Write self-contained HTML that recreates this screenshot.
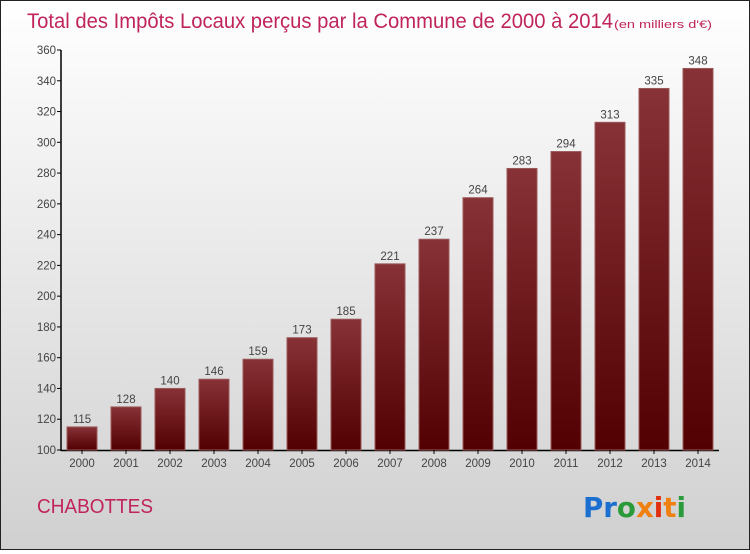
<!DOCTYPE html>
<html><head><meta charset="utf-8"><style>
html,body{margin:0;padding:0}
body{width:750px;height:550px;overflow:hidden;font-family:"Liberation Sans",sans-serif}
#c{position:absolute;left:0;top:0;width:748px;height:548px;border:1px solid #222;background:linear-gradient(#ffffff,#d0d0d0)}
</style></head><body>
<div id="c">
<svg id="s" width="748" height="548">
<defs><linearGradient id="g" x1="0" y1="0" x2="0" y2="1"><stop offset="0" stop-color="#873236"/><stop offset="1" stop-color="#520002"/></linearGradient></defs>
<text x="26" y="27" font-size="21" fill="#c0245c" textLength="586" lengthAdjust="spacingAndGlyphs">Total des Impôts Locaux perçus par la Commune de 2000 à 2014</text>
<text x="613" y="27" font-size="11" fill="#c0245c" textLength="98" lengthAdjust="spacingAndGlyphs">(en milliers d'€)</text>
<text x="36" y="512" font-size="20" fill="#c0245c" textLength="116" lengthAdjust="spacingAndGlyphs">CHABOTTES</text>
<text x="582" y="516" font-size="28" font-weight="bold" textLength="103" lengthAdjust="spacingAndGlyphs" font-family="'DejaVu Sans',sans-serif"><tspan fill="#1a6fd0">Pr</tspan><tspan fill="#2a9a3a">o</tspan><tspan fill="#f08010">x</tspan><tspan fill="#e03010">i</tspan><tspan fill="#f08010">t</tspan><tspan fill="#2a9a3a">i</tspan></text>
</svg></div>
<script>
const years=["2000","2001","2002","2003","2004","2005","2006","2007","2008","2009","2010","2011","2012","2013","2014"];
const values=[115,128,140,146,159,173,185,221,237,264,283,294,313,335,348];
const yTicks=[100,120,140,160,180,200,220,240,260,280,300,320,340,360];
const NS="http://www.w3.org/2000/svg",s=document.getElementById('s');
const y0=449,yMin=100,yMax=360,pxu=400/260;
const y=v=>y0-(v-yMin)*pxu;
const x=i=>81+i*44;
function el(t,a,txt){const e=document.createElementNS(NS,t);for(const k in a)e.setAttribute(k,a[k]);if(txt!=null)e.textContent=txt;s.appendChild(e);return e;}
let ax=el('line',{x1:60,y1:y(360),x2:60,y2:y0+1,stroke:'#000','stroke-width':1.5});


let bx=el('line',{x1:60,y1:y0+0.5,x2:718,y2:y0+0.5,stroke:'#000','stroke-width':1.5});


yTicks.forEach(t=>{
 let l=el('line',{x1:56,x2:60,y1:y(t),y2:y(t),stroke:'#000'});
 
 
 let tx=el('text',{x:55,y:y(t)+4,'font-size':11.5,fill:'#444','text-anchor':'end'},t);
 
 
});
years.forEach((yr,i)=>{
 const cx=x(i),v=values[i];
 let r=el('rect',{x:cx-15,y:y(v),width:30,height:y0-y(v),fill:'url(#g)',stroke:'#9a5a5c','stroke-width':1});
 
 
 let lv=el('text',{x:cx,y:y(v)-4,'font-size':11.5,fill:'#444','text-anchor':'middle'},v);
 
 
 let tk=el('line',{x1:cx,x2:cx,y1:y0,y2:y0+4,stroke:'#000'});
 
 
 let xl=el('text',{x:cx,y:y0+17,'font-size':11.5,fill:'#444','text-anchor':'middle'},yr);
 
 
});
</script>
</body></html>
